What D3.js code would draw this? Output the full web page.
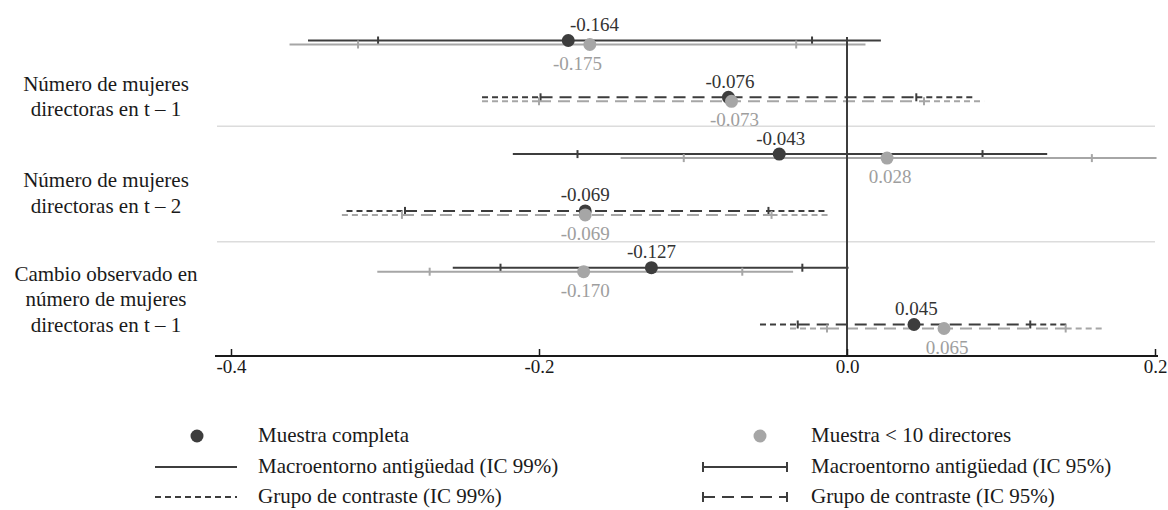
<!DOCTYPE html>
<html>
<head>
<meta charset="utf-8">
<script src="https://cdn.jsdelivr.net/npm/d3@7/dist/d3.min.js"></script>
<style>
  body { margin: 0; background: #fff; }
  svg { display: block; font-family: "Liberation Serif", "Times New Roman", serif; }
</style>
</head>
<body>
<div id="chart"></div>
<script>
// group labels (left side), one array of lines per group
var groupLabels = [
    ["Número de mujeres", "directoras en t – 1"],
    ["Número de mujeres", "directoras en t – 2"],
    ["Cambio observado en", "número de mujeres", "directoras en t – 1"]
];

// six sub-rows: macro (solid) then contraste (dashed) inside each group
var rowKeys = ["t1-macro", "t1-contraste", "t2-macro", "t2-contraste", "cambio-macro", "cambio-contraste"];
var rowType = ["macro", "contraste", "macro", "contraste", "macro", "contraste"];

// Muestra completa
var completaEst  = [-0.181, -0.077, -0.044, -0.170, -0.127, 0.0435];
var completaLo99 = [-0.350, -0.237, -0.217, -0.325, -0.256, -0.0565];
var completaLo95 = [-0.3045, -0.199, -0.175, -0.287, -0.225, -0.032];
var completaHi95 = [-0.0227, 0.045, 0.088, -0.051, -0.029, 0.119];
var completaHi99 = [0.022, 0.083, 0.130, -0.013, 0.001, 0.143];
var completaLabel   = ["-0.164", "-0.076", "-0.043", "-0.069", "-0.127", "0.045"];
var completaLabelAt = [-0.164, -0.076, -0.043, -0.170, -0.127, 0.045];

// Muestra < 10 directores
var menos10Est  = [-0.167, -0.075, 0.026, -0.170, -0.171, 0.063];
var menos10Lo99 = [-0.362, -0.237, -0.147, -0.328, -0.305, -0.037];
var menos10Lo95 = [-0.3175, -0.200, -0.106, -0.289, -0.271, -0.013];
var menos10Hi95 = [-0.033, 0.050, 0.159, -0.049, -0.068, 0.142];
var menos10Hi99 = [0.012, 0.089, 0.201, -0.011, -0.035, 0.166];
var menos10Label   = ["-0.175", "-0.073", "0.028", "-0.069", "-0.170", "0.065"];
var menos10LabelAt = [-0.175, -0.073, 0.028, -0.170, -0.170, 0.065];

var xTicks = [-0.4, -0.2, 0.0, 0.2];

var legendLeft = ["Muestra completa", "Macroentorno antigüedad (IC 99%)", "Grupo de contraste (IC 99%)"];
var legendRight = ["Muestra < 10 directores", "Macroentorno antigüedad (IC 95%)", "Grupo de contraste (IC 95%)"];

const width = 1168, height = 510;

var darkColor = "#3d3d3d",
    greyColor = "#a6a6a6",
    darkText = "#333333",
    greyText = "#9e9e9e",
    sepColor = "#dcdcdc",
    lineWidth = 2,
    dotRadius = 6.5,
    fineDash = "6,4",
    longDash = "12,7",
    tickHalf = 4,
    valueFont = 19,
    labelFont = 21;

var series = [
    { est: completaEst, lo99: completaLo99, lo95: completaLo95, hi95: completaHi95, hi99: completaHi99,
      label: completaLabel, labelAt: completaLabelAt, color: darkColor, text: darkText, dy: 0, below: false },
    { est: menos10Est, lo99: menos10Lo99, lo95: menos10Lo95, hi95: menos10Hi95, hi99: menos10Hi99,
      label: menos10Label, labelAt: menos10LabelAt, color: greyColor, text: greyText, dy: 4, below: true }
];

var x = d3.scaleLinear().domain([-0.4, 0.2]).range([231, 1155]);
var yRow = d3.scalePoint().domain(rowKeys).range([40.5, 324.5]);
var yGroup = d3.scaleBand().domain(d3.range(groupLabels.length)).range([11, 357]);
var axisY = 356;

var svg = d3.select("#chart").append("svg")
    .attr("width", width)
    .attr("height", height);

// separators between groups
var sepG = svg.append("g").attr("id", "separators");
sepG.selectAll("line")
    .data(d3.range(1, groupLabels.length))
    .enter().append("line")
    .attr("x1", 217).attr("x2", 1155)
    .attr("y1", function(g) { return yGroup(g); })
    .attr("y2", function(g) { return yGroup(g); })
    .attr("stroke", sepColor)
    .attr("stroke-width", 1.5);

// group labels on the left
var labelOffsets = [28, 9, 0]; // nudges seen in the original
var labG = svg.append("g").attr("id", "group-labels");
groupLabels.forEach(function(lines, g) {
    var mid = yGroup(g) + yGroup.bandwidth() / 2 + labelOffsets[g];
    var lh = 25.5;
    var first = mid - (lines.length - 1) * lh / 2 + 7;
    lines.forEach(function(t, k) {
        labG.append("text")
            .attr("x", 106)
            .attr("y", first + k * lh)
            .attr("text-anchor", "middle")
            .attr("font-size", labelFont)
            .attr("fill", "#1a1a1a")
            .text(t);
    });
});

// error bars
var barsG = svg.append("g").attr("id", "bars");
series.forEach(function(s) {
    rowKeys.forEach(function(key, i) {
        var y = yRow(key) + s.dy;
        var g = barsG.append("g");
        if (rowType[i] === "macro") {
            g.append("line")
                .attr("x1", x(s.lo99[i])).attr("x2", x(s.hi99[i]))
                .attr("y1", y).attr("y2", y);
        } else {
            g.append("line").attr("x1", x(s.lo99[i])).attr("x2", x(s.lo95[i]))
                .attr("y1", y).attr("y2", y).attr("stroke-dasharray", fineDash);
            g.append("line").attr("x1", x(s.lo95[i])).attr("x2", x(s.hi95[i]))
                .attr("y1", y).attr("y2", y).attr("stroke-dasharray", longDash);
            g.append("line").attr("x1", x(s.hi95[i])).attr("x2", x(s.hi99[i]))
                .attr("y1", y).attr("y2", y).attr("stroke-dasharray", fineDash);
        }
        g.selectAll("line").attr("stroke", s.color).attr("stroke-width", lineWidth);
        [s.lo95[i], s.hi95[i]].forEach(function(v) {
            g.append("line")
                .attr("x1", x(v)).attr("x2", x(v))
                .attr("y1", y - tickHalf).attr("y2", y + tickHalf)
                .attr("stroke", s.color).attr("stroke-width", 2);
        });
    });
});

// zero line
svg.append("line")
    .attr("x1", x(0)).attr("x2", x(0))
    .attr("y1", 37).attr("y2", axisY)
    .attr("stroke", darkColor)
    .attr("stroke-width", 2);

// dots and value labels
var dotsG = svg.append("g").attr("id", "dots");
series.forEach(function(s) {
    rowKeys.forEach(function(key, i) {
        var y = yRow(key) + s.dy;
        dotsG.append("circle")
            .attr("cx", x(s.est[i]))
            .attr("cy", y)
            .attr("r", dotRadius)
            .attr("fill", s.color);
        dotsG.append("text")
            .attr("x", x(s.labelAt[i]))
            .attr("y", s.below ? y + 25 : y - 9.5)
            .attr("text-anchor", "middle")
            .attr("font-size", valueFont)
            .attr("fill", s.text)
            .text(s.label[i]);
    });
});

// x axis (plain hyphen for negatives, like the original)
var axis = d3.axisBottom(x)
    .tickValues(xTicks)
    .tickFormat(function(d) { return d.toFixed(1); })
    .tickSizeInner(-7)
    .tickSizeOuter(0)
    .tickPadding(4);
var axG = svg.append("g")
    .attr("transform", "translate(0," + axisY + ")")
    .call(axis);
axG.select(".domain").remove();
axG.append("line")
    .attr("x1", 215).attr("x2", 1158)
    .attr("stroke", "#1a1a1a").attr("stroke-width", 2);
axG.selectAll(".tick line").attr("stroke", "#1a1a1a").attr("stroke-width", 1.5);
axG.selectAll(".tick text")
    .attr("font-family", "Liberation Serif, Times New Roman, serif")
    .attr("font-size", valueFont)
    .attr("fill", "#1a1a1a");

// legend
var lg = svg.append("g").attr("id", "legend");
var legRows = [436, 467, 497];
var leftSym = 155, leftSymEnd = 237, leftText = 258;
var rightSym = 703, rightSymEnd = 787, rightText = 811;

lg.append("circle").attr("cx", 197).attr("cy", legRows[0]).attr("r", dotRadius).attr("fill", darkColor);
lg.append("circle").attr("cx", 760).attr("cy", legRows[0]).attr("r", dotRadius).attr("fill", greyColor);

lg.append("line").attr("x1", leftSym).attr("x2", leftSymEnd)
    .attr("y1", legRows[1]).attr("y2", legRows[1])
    .attr("stroke", darkColor).attr("stroke-width", lineWidth);
lg.append("line").attr("x1", leftSym).attr("x2", leftSymEnd)
    .attr("y1", legRows[2]).attr("y2", legRows[2])
    .attr("stroke", darkColor).attr("stroke-width", lineWidth)
    .attr("stroke-dasharray", fineDash);

[[legRows[1], null], [legRows[2], longDash]].forEach(function(r) {
    lg.append("line").attr("x1", rightSym).attr("x2", rightSymEnd)
        .attr("y1", r[0]).attr("y2", r[0])
        .attr("stroke", darkColor).attr("stroke-width", lineWidth)
        .attr("stroke-dasharray", r[1]);
    [rightSym, rightSymEnd].forEach(function(px) {
        lg.append("line").attr("x1", px).attr("x2", px)
            .attr("y1", r[0] - tickHalf - 1).attr("y2", r[0] + tickHalf + 1)
            .attr("stroke", darkColor).attr("stroke-width", 2);
    });
});

legendLeft.forEach(function(t, k) {
    lg.append("text").attr("x", leftText).attr("y", legRows[k] + 6)
        .attr("font-size", labelFont).attr("fill", "#1a1a1a").text(t);
});
legendRight.forEach(function(t, k) {
    lg.append("text").attr("x", rightText).attr("y", legRows[k] + 6)
        .attr("font-size", labelFont).attr("fill", "#1a1a1a").text(t);
});
</script>
</body>
</html>
